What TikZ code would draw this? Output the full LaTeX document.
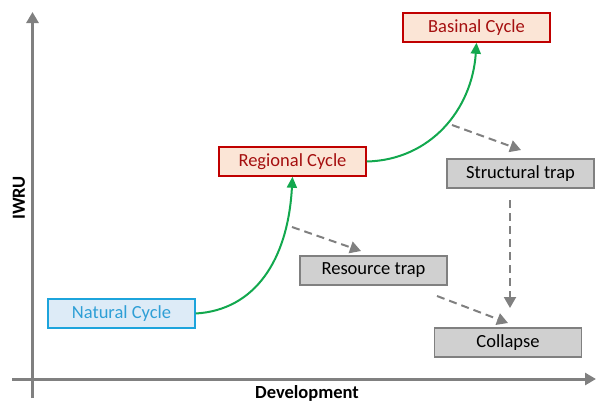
\documentclass[tikz,border=0pt]{standalone}
\usepackage{fontspec}
\setmainfont{Carlito}
\usetikzlibrary{arrows.meta}
\definecolor{axisgray}{HTML}{808080}
\definecolor{natfill}{HTML}{DDEBF7}
\definecolor{natdraw}{HTML}{1CA4DC}
\definecolor{nattext}{HTML}{2E9FD6}
\definecolor{redfill}{HTML}{FBE5D6}
\definecolor{reddraw}{HTML}{C00000}
\definecolor{redtext}{HTML}{A50F0F}
\definecolor{grayfill}{HTML}{D0D0D0}
\definecolor{graydraw}{HTML}{808080}
\definecolor{greenline}{HTML}{12A84E}
\tikzset{
  box/.style={minimum width=147pt, minimum height=29pt, inner sep=0pt, line width=1.5pt, font=\fontsize{18.5}{21}\selectfont},
  natbox/.style={box, draw=natdraw, fill=natfill, text=nattext},
  redbox/.style={box, draw=reddraw, fill=redfill, text=redtext},
  graybox/.style={box, draw=graydraw, fill=grayfill, text=black},
  axisline/.style={draw=axisgray, line width=3pt, -{Triangle[length=11pt,width=12pt]}},
  growth/.style={draw=greenline, line width=2pt, -{Triangle[length=11pt,width=10pt]}},
  fall/.style={draw=axisgray, line width=2pt, dash pattern=on 8pt off 5pt, -{Triangle[length=11pt,width=12pt]}},
  axlabel/.style={font=\bfseries\fontsize{18.5}{21}\selectfont}
}
\begin{document}
\begin{tikzpicture}[x=1pt,y=-1pt]
\useasboundingbox (0,0) rectangle (608,416);
\coordinate (yb) at (32.5,398);
\coordinate (yt) at (32.5,12);
\coordinate (xl) at (12,379);
\coordinate (xr) at (596,379);
\draw[axisline] (yb) -- (yt);
\draw[axisline] (xl) -- (xr);
\node[axlabel, rotate=90] (iwru) at (19,198) {IWRU};
\node[axlabel] (dev) at (307,393) {Development};

\node[natbox] (nat) at (121.5,313.5) {Natural Cycle};
\node[redbox] (reg) at (292.5,161.5) {Regional Cycle};
\node[redbox] (bas) at (476.5,27.5) {Basinal Cycle};
\node[graybox] (str) at (520.5,173.5) {Structural trap};
\node[graybox] (res) at (373.5,270.5) {Resource trap};
\node[graybox] (col) at (508,342.5) {Collapse};

\draw[growth] (nat.east) .. controls (255,310) and (288,260) .. (reg.south);
\draw[growth] (reg.east) .. controls (430,160) and (472,110) .. (bas.south);

\coordinate (d1a) at (292,227);
\coordinate (d1b) at (361,251);
\coordinate (d2a) at (452,125);
\coordinate (d2b) at (521,150);
\coordinate (d3a) at (510,200);
\coordinate (d3b) at (510,308);
\coordinate (d4a) at (437,296);
\coordinate (d4b) at (508,323);
\draw[fall] (d1a) -- (d1b);
\draw[fall] (d2a) -- (d2b);
\draw[fall] (d3a) -- (d3b);
\draw[fall] (d4a) -- (d4b);
\end{tikzpicture}
\end{document}
